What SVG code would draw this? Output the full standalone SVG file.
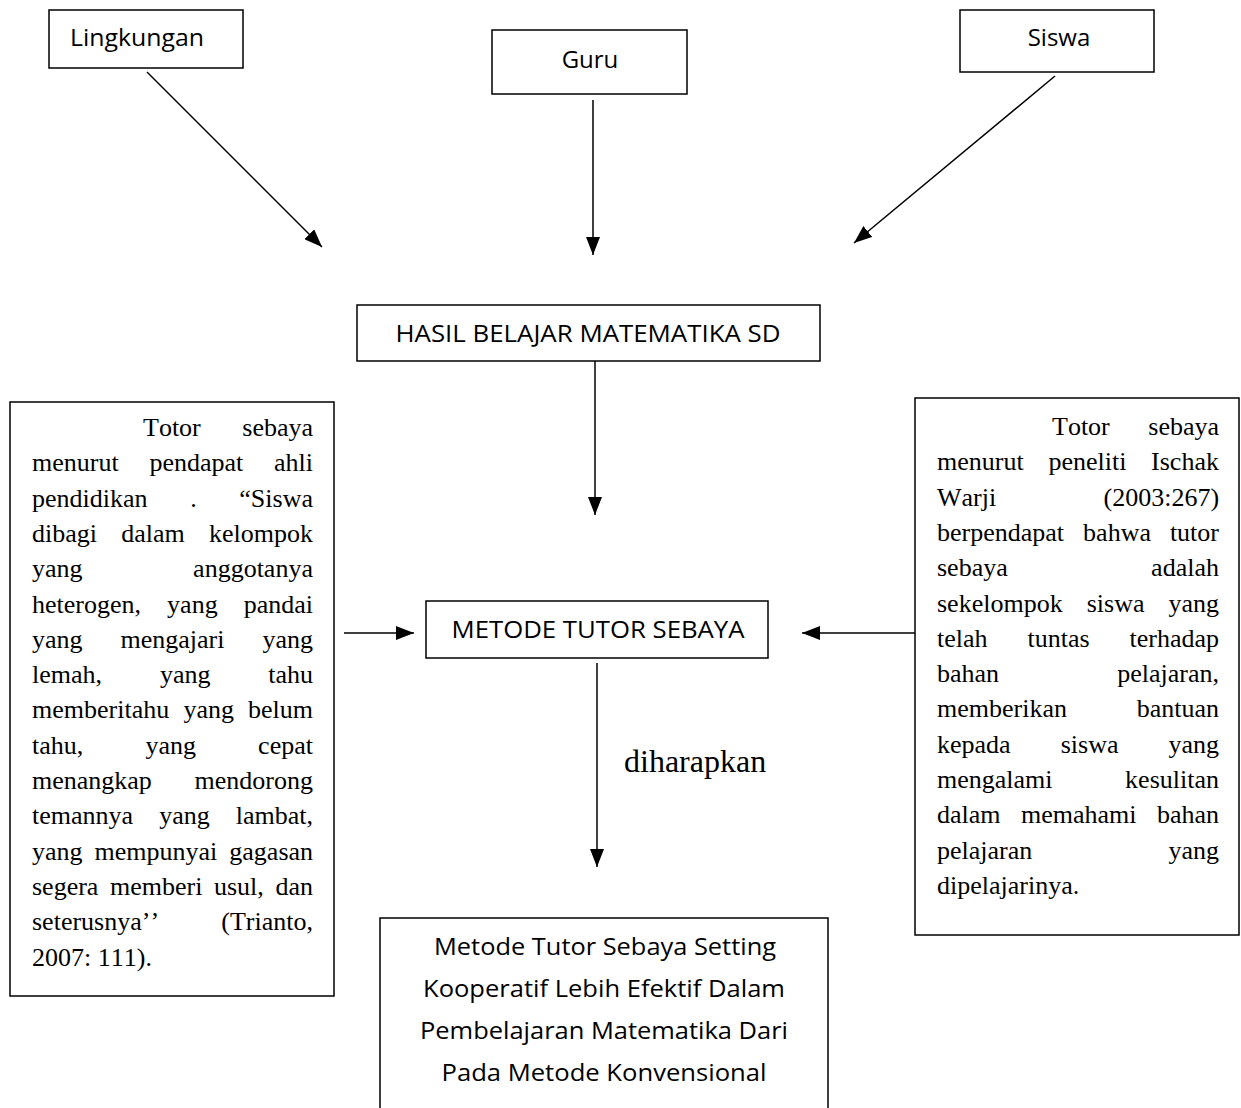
<svg xmlns="http://www.w3.org/2000/svg" width="1241" height="1108" viewBox="0 0 1241 1108">
<style>
.box{fill:#fff;stroke:#000;stroke-width:1.5}
.sans{font-family:"Open Sans","Liberation Sans",sans-serif;font-size:24px;fill:#000}
.mid{text-anchor:middle}
.serif{font-family:"Liberation Serif","Times New Roman",serif;font-size:26px;fill:#000;font-kerning:none}
.lbl{font-family:"Liberation Serif","Times New Roman",serif;font-size:32px;fill:#000}
#connectors line{stroke:#000;stroke-width:1.5;marker-end:url(#ah)}
</style>
<defs>
<marker id="ah" markerUnits="userSpaceOnUse" markerWidth="18" markerHeight="14" refX="18" refY="7" orient="auto">
<path d="M0,0 L18,7 L0,14 Z" fill="#000"/>
</marker>
</defs>
<rect width="1241" height="1108" fill="#fff"/>

<g id="connectors">
<line x1="147" y1="72" x2="322" y2="247"/>
<line x1="593" y1="100" x2="593" y2="255"/>
<line x1="1055" y1="76" x2="854" y2="243"/>
<line x1="595" y1="361" x2="595" y2="515"/>
<line x1="344" y1="633" x2="414" y2="633"/>
<line x1="915" y1="633" x2="802" y2="633"/>
<line x1="597" y1="663" x2="597" y2="867"/>
</g>

<g id="lingkungan">
<rect class="box" x="49" y="10" width="194" height="58"/>
<text class="sans" x="70" y="46" textLength="134" lengthAdjust="spacingAndGlyphs">Lingkungan</text>
</g>
<g id="guru">
<rect class="box" x="492" y="30" width="195" height="64"/>
<text class="sans mid" x="590" y="68">Guru</text>
</g>
<g id="siswa">
<rect class="box" x="960" y="10" width="194" height="62"/>
<text class="sans mid" x="1059" y="46">Siswa</text>
</g>
<g id="hasil">
<rect class="box" x="357" y="305" width="463" height="56"/>
<text class="sans mid" x="588" y="342" textLength="385" lengthAdjust="spacingAndGlyphs">HASIL BELAJAR MATEMATIKA SD</text>
</g>
<g id="metode">
<rect class="box" x="426" y="601" width="342" height="57"/>
<text class="sans mid" x="598" y="638" textLength="293" lengthAdjust="spacingAndGlyphs">METODE TUTOR SEBAYA</text>
</g>
<g id="label-diharapkan">
<text class="lbl" x="624" y="772">diharapkan</text>
</g>

<g id="left-note">
<rect class="box" x="10" y="402" width="324" height="594"/>
<text class="serif" y="436"><tspan x="143">Totor</tspan><tspan x="242.3">sebaya</tspan></text>
<text class="serif" y="471.3"><tspan x="32">menurut</tspan><tspan x="149.4">pendapat</tspan><tspan x="274">ahli</tspan></text>
<text class="serif" y="506.6"><tspan x="32">pendidikan</tspan><tspan x="190.2">.</tspan><tspan x="239.3">“Siswa</tspan></text>
<text class="serif" y="541.9"><tspan x="32">dibagi</tspan><tspan x="121.3">dalam</tspan><tspan x="209">kelompok</tspan></text>
<text class="serif" y="577.2"><tspan x="32">yang</tspan><tspan x="193.1">anggotanya</tspan></text>
<text class="serif" y="612.5"><tspan x="32">heterogen,</tspan><tspan x="167.1">yang</tspan><tspan x="243.7">pandai</tspan></text>
<text class="serif" y="647.8"><tspan x="32">yang</tspan><tspan x="120.5">mengajari</tspan><tspan x="262.5">yang</tspan></text>
<text class="serif" y="683.1"><tspan x="32">lemah,</tspan><tspan x="159.9">yang</tspan><tspan x="268.2">tahu</tspan></text>
<text class="serif" y="718.4"><tspan x="32">memberitahu</tspan><tspan x="183.4">yang</tspan><tspan x="248">belum</tspan></text>
<text class="serif" y="753.7"><tspan x="32">tahu,</tspan><tspan x="145.5">yang</tspan><tspan x="258.1">cepat</tspan></text>
<text class="serif" y="789"><tspan x="32">menangkap</tspan><tspan x="194.6">mendorong</tspan></text>
<text class="serif" y="824.3"><tspan x="32">temannya</tspan><tspan x="159.2">yang</tspan><tspan x="235.7">lambat,</tspan></text>
<text class="serif" y="859.6"><tspan x="32">yang</tspan><tspan x="94.5">mempunyai</tspan><tspan x="229.3">gagasan</tspan></text>
<text class="serif" y="894.9"><tspan x="32">segera</tspan><tspan x="110">memberi</tspan><tspan x="214">usul,</tspan><tspan x="275.5">dan</tspan></text>
<text class="serif" y="930.2"><tspan x="32">seterusnya’’</tspan><tspan x="221.3">(Trianto,</tspan></text>
<text class="serif" x="32" y="965.5">2007: 111).</text>
</g>

<g id="right-note">
<rect class="box" x="915" y="398" width="324" height="537"/>
<text class="serif" y="435"><tspan x="1052">Totor</tspan><tspan x="1148.3">sebaya</tspan></text>
<text class="serif" y="470.3"><tspan x="937">menurut</tspan><tspan x="1048.4">peneliti</tspan><tspan x="1151.1">Ischak</tspan></text>
<text class="serif" y="505.6"><tspan x="937">Warji</tspan><tspan x="1103.5">(2003:267)</tspan></text>
<text class="serif" y="540.9"><tspan x="937">berpendapat</tspan><tspan x="1083.1">bahwa</tspan><tspan x="1169.9">tutor</tspan></text>
<text class="serif" y="576.2"><tspan x="937">sebaya</tspan><tspan x="1151.1">adalah</tspan></text>
<text class="serif" y="611.5"><tspan x="937">sekelompok</tspan><tspan x="1086.7">siswa</tspan><tspan x="1168.5">yang</tspan></text>
<text class="serif" y="646.8"><tspan x="937">telah</tspan><tspan x="1027.5">tuntas</tspan><tspan x="1129.5">terhadap</tspan></text>
<text class="serif" y="682.1"><tspan x="937">bahan</tspan><tspan x="1117.2">pelajaran,</tspan></text>
<text class="serif" y="717.4"><tspan x="937">memberikan</tspan><tspan x="1136.7">bantuan</tspan></text>
<text class="serif" y="752.7"><tspan x="937">kepada</tspan><tspan x="1060.7">siswa</tspan><tspan x="1168.5">yang</tspan></text>
<text class="serif" y="788"><tspan x="937">mengalami</tspan><tspan x="1125.1">kesulitan</tspan></text>
<text class="serif" y="823.3"><tspan x="937">dalam</tspan><tspan x="1021">memahami</tspan><tspan x="1156.9">bahan</tspan></text>
<text class="serif" y="858.6"><tspan x="937">pelajaran</tspan><tspan x="1168.5">yang</tspan></text>
<text class="serif" x="937" y="893.9">dipelajarinya.</text>
</g>

<g id="conclusion">
<rect class="box" x="380" y="918" width="448" height="220"/>
<text class="sans mid" x="605" y="955" textLength="342" lengthAdjust="spacingAndGlyphs">Metode Tutor Sebaya Setting</text>
<text class="sans mid" x="604" y="997" textLength="362" lengthAdjust="spacingAndGlyphs">Kooperatif Lebih Efektif Dalam</text>
<text class="sans mid" x="604" y="1039" textLength="368" lengthAdjust="spacingAndGlyphs">Pembelajaran Matematika Dari</text>
<text class="sans mid" x="604" y="1081" textLength="325" lengthAdjust="spacingAndGlyphs">Pada Metode Konvensional</text>
</g>
</svg>
